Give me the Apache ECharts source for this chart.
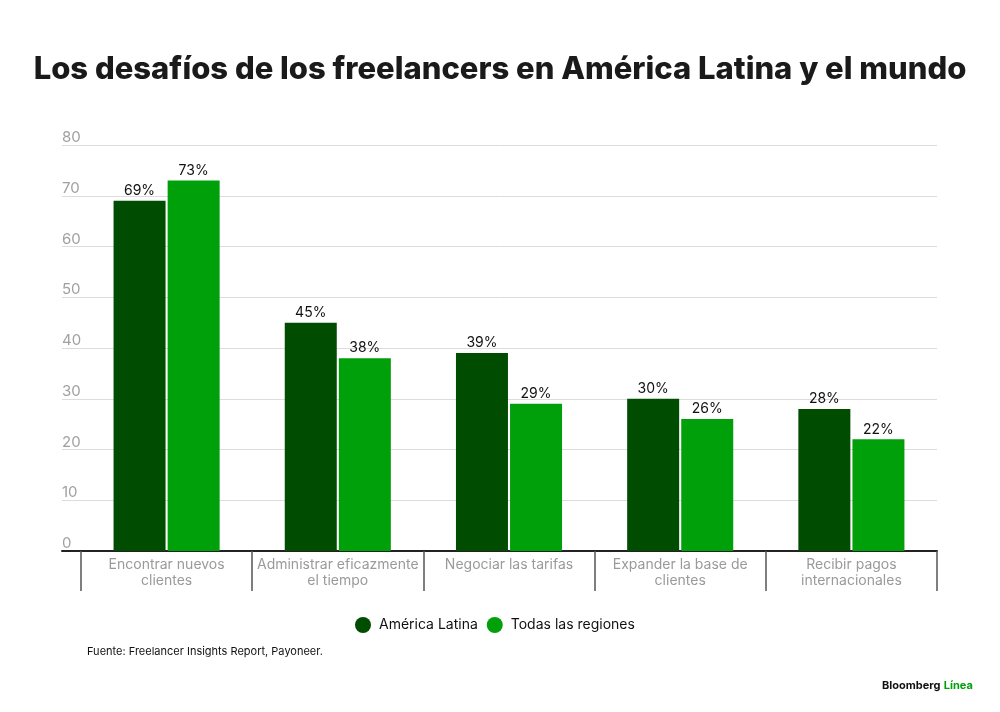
<!DOCTYPE html>
<html>
<head>
<meta charset="utf-8">
<script src="https://cdn.jsdelivr.net/npm/echarts@6/dist/echarts.min.js"></script>
<style>
html,body{margin:0;padding:0;background:#fff;}
#c{width:1000px;height:712px;}
</style>
</head>
<body>
<div id="c"></div>
<script>
const categories = ['Encontrar nuevos\nclientes', 'Administrar eficazmente\nel tiempo', 'Negociar las tarifas', 'Expander la base de\nclientes', 'Recibir pagos\ninternacionales'];
const latam = [69, 45, 39, 30, 28];
const todas = [73, 38, 29, 26, 22];
const seriesNames = ['América Latina', 'Todas las regiones'];
const yTicks = { min: 0, max: 80, interval: 10 };

const chart = echarts.init(document.getElementById('c'), null, { renderer: 'canvas' });
const DARK = '#004c00';
const LIGHT = '#00a00a';
const FONT = 'Inter, "Noto Sans", sans-serif';

const labelCfg = {
  show: true, position: 'top', distance: 3,
  color: '#111', fontSize: 14, fontFamily: FONT,
  formatter: p => p.value + '%'
};

chart.setOption({
  backgroundColor: '#fff',
  animation: false,
  title: {
    text: 'Los desafíos de los freelancers en América Latina y el mundo',
    left: 'center', top: 49,
    textStyle: { fontFamily: FONT, fontWeight: 800, fontSize: 31, color: '#1a1a1a' }
  },
  legend: {
    data: seriesNames,
    left: 355, top: 617, padding: 0,
    icon: 'circle', itemWidth: 16, itemHeight: 16, itemGap: 9,
    textStyle: { fontFamily: FONT, fontSize: 14, color: '#111', padding: [0, 0, 0, 3] }
  },
  graphic: [
    { type: 'text', left: 87, top: 646, style: { text: 'Fuente: Freelancer Insights Report, Payoneer.', fontFamily: FONT, fontSize: 11, fill: '#111' } },
    { type: 'text', left: 882, top: 680, style: { rich: { a: { fontFamily: FONT, fontSize: 11, fontWeight: 700, fill: '#111' }, b: { fontFamily: FONT, fontSize: 11, fontWeight: 700, fill: '#00a00a' } }, text: '{a|Bloomberg} {b|Línea}' } }
  ],
  grid: [
    { left: 62, right: 63, top: 145, bottom: 161 },
    { left: 81, right: 63, top: 145, bottom: 161 }
  ],
  xAxis: [
    { gridIndex: 0, type: 'category', data: categories, axisLine: { show: true, lineStyle: { color: '#222', width: 2 } }, axisTick: { show: false }, axisLabel: { show: false } },
    { gridIndex: 1, type: 'category', data: categories,
      axisLine: { show: false },
      axisTick: { show: true, length: 40, lineStyle: { color: '#555', width: 1.5 } },
      axisLabel: { color: '#9a9a9a', fontFamily: FONT, fontSize: 14, lineHeight: 16, margin: 6, interval: 0 } }
  ],
  yAxis: [
    { gridIndex: 0, type: 'value', min: yTicks.min, max: yTicks.max, interval: yTicks.interval,
      axisLine: { show: false }, axisTick: { show: false },
      splitLine: { lineStyle: { color: '#dcdcdc', width: 1 } },
      axisLabel: { inside: true, margin: 0, verticalAlign: 'bottom', padding: [0, 0, 0, 0], color: '#a0a0a0', fontFamily: FONT, fontSize: 15 } },
    { gridIndex: 1, type: 'value', min: yTicks.min, max: yTicks.max, interval: yTicks.interval, show: false, splitLine: { show: false } }
  ],
  series: [
    { name: seriesNames[0], type: 'bar', xAxisIndex: 1, yAxisIndex: 1, data: latam, barWidth: 52, barGap: '4%', itemStyle: { color: DARK }, label: labelCfg },
    { name: seriesNames[1], type: 'bar', xAxisIndex: 1, yAxisIndex: 1, data: todas, barWidth: 52, barGap: '4%', itemStyle: { color: LIGHT }, label: labelCfg }
  ]
});
</script>
</body>
</html>
